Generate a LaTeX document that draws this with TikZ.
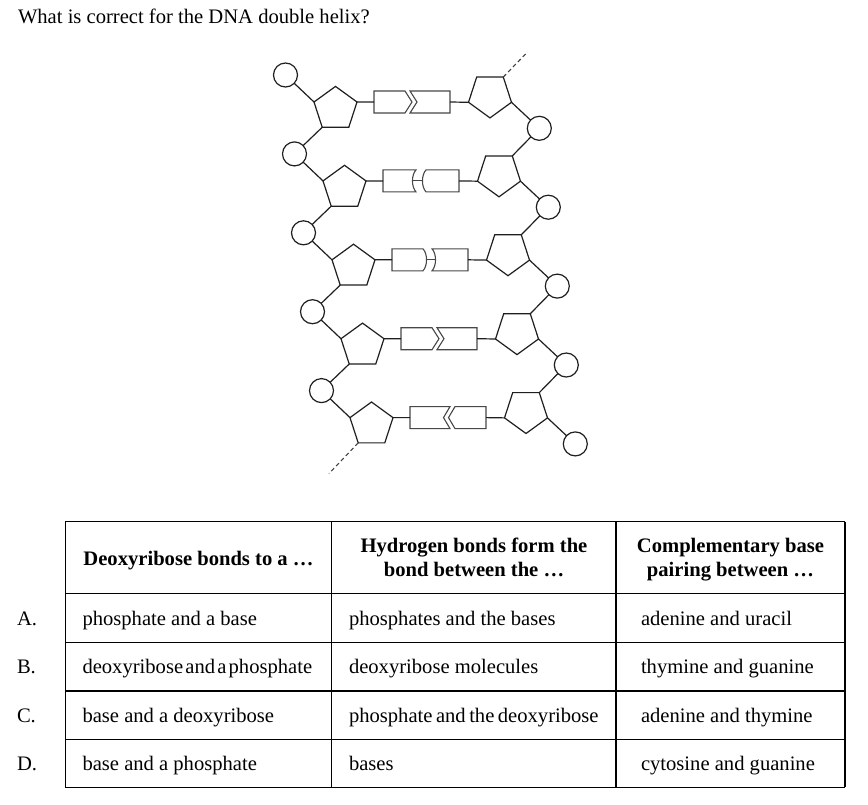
\documentclass[tikz,border=0pt]{standalone}
\usepackage{fontspec}
\setmainfont{Liberation Serif}
\usetikzlibrary{shapes.geometric}
\newcommand{\bpChevR}{%
 \draw[basebox] (0,-11) -- (31,-11) -- (38,0) -- (31,11) -- (0,11) -- cycle;
 \draw[basebox] (36,-11) -- (76,-11) -- (76,11) -- (36,11) -- (43,0) -- cycle;}
\newcommand{\bpChevL}{%
 \draw[basebox] (0,-11) -- (40,-11) -- (33.5,0) -- (40,11) -- (0,11) -- cycle;
 \draw[basebox] (45,-11) -- (76,-11) -- (76,11) -- (45,11) -- (38.5,0) -- cycle;}
\newcommand{\bpCurvA}{%
 \draw[basebox] (0,-11) -- (33,-11) .. controls (28.3,-6) and (28.3,6) .. (33,11) -- (0,11) -- cycle;
 \draw[basebox] (43,-11) -- (76,-11) -- (76,11) -- (43,11) .. controls (38.3,6) and (38.3,-6) .. (43,-11) -- cycle;
 \draw[basebox] (29.5,0) -- (39.5,0);}
\newcommand{\bpCurvB}{%
 \draw[basebox] (0,-11) -- (31,-11) .. controls (35.7,-6) and (35.7,6) .. (31,11) -- (0,11) -- cycle;
 \draw[basebox] (40,-11) -- (76,-11) -- (76,11) -- (40,11) .. controls (44.7,6) and (44.7,-6) .. (40,-11) -- cycle;
 \draw[basebox] (34.5,0) -- (43.5,0);}
\begin{document}
\begin{tikzpicture}[x=1pt,y=-1pt,
  every node/.style={font=\fontsize{20.6}{24}\selectfont, inner sep=0pt, outer sep=0pt},
  helix/.style={line width=1.2pt, draw=black!88},
  phos/.style={circle, draw=black!88, line width=1.2pt, minimum size=24pt},
  sugarL/.style={regular polygon, regular polygon sides=5, draw=black!88, line width=1.2pt, minimum size=45.2pt},
  sugarR/.style={sugarL, shape border rotate=180},
  basebox/.style={draw=black!72, line width=1.1pt},
  gridline/.style={line width=1.1pt, draw=black},
  txt/.style={anchor=base west},
  hdr/.style={anchor=base, font=\fontsize{20.6}{24}\selectfont\bfseries},
  strand/.style={line width=1.1pt, draw=black!75, dash pattern=on 4pt off 3pt},
]
\fill[white] (0,0) rectangle (868,804);
\useasboundingbox (0,0) rectangle (868,804);

\node[txt] (title) at (18,23) {What is correct for the DNA double helix?};

% helix nodes
\foreach \i in {0,...,4} {
  \pgfmathsetmacro\dx{9*\i}
  \pgfmathsetmacro\dy{78.9*\i}
  \node[phos] (lc\i) at (285.5+\dx, 75+\dy) {};
  \node[sugarL] (lp\i) at (335.5+\dx, 109+\dy) {};
  \node[sugarR] (rp\i) at (490+\dx, 95.3+\dy) {};
  \node[phos] (rc\i) at (539.3+\dx, 128.3+\dy) {};
  \coordinate (bl\i) at (374+\dx, 102+\dy);
  \coordinate (br\i) at (450+\dx, 102+\dy);
}
% base pairs
\begin{scope}[shift={(bl0)}] \bpChevR \end{scope}
\begin{scope}[shift={(bl1)}] \bpCurvA \end{scope}
\begin{scope}[shift={(bl2)}] \bpCurvB \end{scope}
\begin{scope}[shift={(bl3)}] \bpChevR \end{scope}
\begin{scope}[shift={(bl4)}] \bpChevL \end{scope}

% connectors
\foreach \i in {0,...,4} {
  \draw[helix] (lc\i) -- (lp\i.corner 2);
  \draw[helix] (lp\i.corner 5) -- (bl\i);
  \draw[helix] (br\i) -- (rp\i.corner 5);
  \draw[helix] (rp\i.corner 2) -- (rc\i);
}
\foreach \i [count=\j from 0] in {1,...,4} {
  \draw[helix] (lp\j.corner 3) -- (lc\i);
  \draw[helix] (rc\j) -- (rp\i.corner 3);
}
\coordinate (dtop) at (527,52.5);
\coordinate (dbot) at (329,473.5);
\draw[strand] (rp0.corner 3) -- (dtop);
\draw[strand] (lp4.corner 3) -- (dbot);

% table
\foreach \y in {521.7,593.3,642.3,691,739.3,787.3}
  \draw[gridline] (65.3,\y) -- (845,\y);
\foreach \x in {65.3,331.7,616,845}
  \draw[gridline] (\x,521.7) -- (\x,787.3);

\node[hdr] (h1) at (198.5,565) {Deoxyribose bonds to a …};
\node[hdr] (h2a) at (474,552.5) {Hydrogen bonds form the};
\node[hdr] (h2b) at (474,576.5) {bond between the …};
\node[hdr] (h3a) at (730.5,552.5) {Complementary base};
\node[hdr] (h3b) at (730.5,576.5) {pairing between …};

\node[txt] (la) at (17,625) {A.};
\node[txt] (lb) at (17,673.6) {B.};
\node[txt] (lc) at (17,722.2) {C.};
\node[txt] (ld) at (17,770.3) {D.};

\node[txt] (a1) at (82.5,625) {phosphate and a base};
\node[txt] (a2) at (349,625) {phosphates and the bases};
\node[txt] (a3) at (641,625) {adenine and uracil};
\node[txt] (b1) at (82.5,673.6) {\spaceskip=2.2pt deoxyribose and a phosphate};
\node[txt] (b2) at (349,673.6) {deoxyribose molecules};
\node[txt] (b3) at (641,673.6) {thymine and guanine};
\node[txt] (c1) at (82.5,722.2) {base and a deoxyribose};
\node[txt] (c2) at (349,722.2) {\spaceskip=3.5pt phosphate and the deoxyribose};
\node[txt] (c3) at (641,722.2) {adenine and thymine};
\node[txt] (d1) at (82.5,770.3) {base and a phosphate};
\node[txt] (d2) at (349,770.3) {bases};
\node[txt] (d3) at (641,770.3) {cytosine and guanine};
\end{tikzpicture}
\end{document}
